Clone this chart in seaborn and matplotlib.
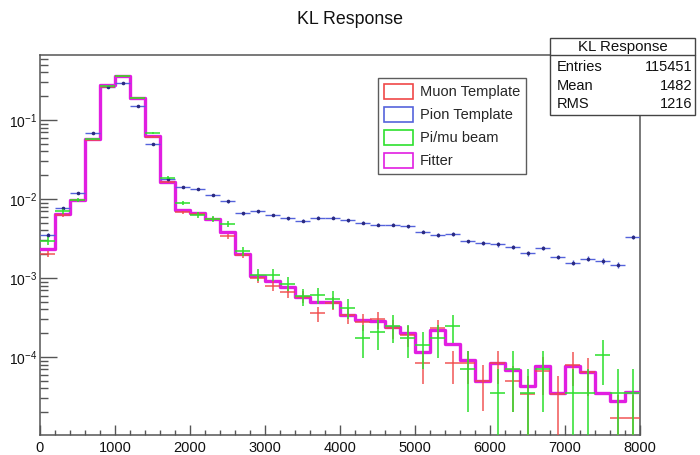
import numpy as np
import pandas as pd
import matplotlib
matplotlib.use("Agg")
import matplotlib.pyplot as plt
from matplotlib.patches import Patch, Rectangle
from matplotlib.lines import Line2D
from matplotlib.ticker import MultipleLocator, LogLocator, NullFormatter
import seaborn as sns

nan = np.nan

# ---- data ----
edges = list(range(0, 8001, 200))
centers = [e + 100 for e in edges[:-1]]

fitter = [2.33e-3, 6.4e-3, 9.8e-3, 0.057, 0.28, 0.36, 0.19, 0.062, 0.0163, 7.3e-3,
          6.6e-3, 5.6e-3, 3.86e-3, 2.0e-3, 1.06e-3, 9.2e-4, 7.6e-4, 5.8e-4, 4.9e-4, 4.9e-4,
          3.4e-4, 2.94e-4, 2.86e-4, 2.4e-4, 2.0e-4, 1.17e-4, 2.2e-4, 1.45e-4, 9.3e-5, 5.0e-5,
          8.3e-5, 6.8e-5, 4.3e-5, 7.8e-5, 3.5e-5, 7.8e-5, 6.5e-5, 3.5e-5, 2.8e-5, 3.6e-5]

muon = [2.0e-3, 6.3e-3, 9.7e-3, 0.056, 0.264, 0.36, 0.19, 0.061, 0.0165, 6.8e-3,
        6.5e-3, 5.6e-3, 3.4e-3, 1.95e-3, 9.9e-4, 7.9e-4, 6.7e-4, 5.8e-4, 3.57e-4, 4.8e-4,
        3.4e-4, 2.8e-4, 3.0e-4, 2.3e-4, 1.9e-4, 8.3e-5, 2.3e-4, 8.3e-5, 8.3e-5, 5.0e-5,
        8.3e-5, 4.9e-5, 3.4e-5, 6.7e-5, 3.4e-5, 8.0e-5, 6.5e-5, nan, 1.67e-5, 1.67e-5]
muon_err = [1.8e-4, 3.2e-4, 4.0e-4, 9.7e-4, 2.1e-3, 2.45e-3, 1.78e-3, 1.0e-3, 5.3e-4, 3.4e-4,
            3.3e-4, 3.1e-4, 2.4e-4, 1.8e-4, 1.29e-4, 1.15e-4, 1.06e-4, 9.8e-5, 7.7e-5, 8.9e-5,
            7.5e-5, 6.8e-5, 7.1e-5, 6.2e-5, 5.6e-5, 3.7e-5, 6.2e-5, 3.7e-5, 3.7e-5, 2.9e-5,
            3.7e-5, 2.9e-5, 2.4e-5, 3.4e-5, 2.4e-5, 3.65e-5, 3.3e-5, nan, 1.67e-5, 1.67e-5]

pion = [3.5e-3, 7.6e-3, 0.012, 0.069, 0.264, 0.29, 0.15, 0.049, 0.0177, 0.0143,
        0.0134, 0.0113, 9.3e-3, 6.6e-3, 7.0e-3, 6.3e-3, 5.7e-3, 5.3e-3, 5.8e-3, 5.8e-3,
        5.4e-3, 5.0e-3, 4.7e-3, 4.7e-3, 4.5e-3, 3.86e-3, 3.5e-3, 3.6e-3, 2.9e-3, 2.75e-3,
        2.66e-3, 2.5e-3, 2.05e-3, 2.4e-3, 1.85e-3, 1.57e-3, 1.75e-3, 1.65e-3, 1.46e-3, 3.3e-3]
pion_err = [1.8e-4, 2.7e-4, 3.4e-4, 8.1e-4, 1.58e-3, 1.65e-3, 1.19e-3, 6.8e-4, 4.1e-4, 3.7e-4,
            3.5e-4, 3.3e-4, 3.0e-4, 2.5e-4, 2.6e-4, 2.4e-4, 2.3e-4, 2.2e-4, 2.3e-4, 2.3e-4,
            2.25e-4, 2.2e-4, 2.1e-4, 2.1e-4, 2.06e-4, 1.9e-4, 1.8e-4, 1.84e-4, 1.65e-4, 1.6e-4,
            1.58e-4, 1.53e-4, 1.39e-4, 1.5e-4, 1.32e-4, 1.21e-4, 1.28e-4, 1.25e-4, 1.17e-4, 1.76e-4]

beam = [2.95e-3, 7.0e-3, 9.8e-3, 0.057, 0.27, 0.36, 0.19, 0.068, 0.0186, 8.9e-3,
        6.3e-3, 5.6e-3, 4.8e-3, 2.2e-3, 1.1e-3, 1.1e-3, 8.5e-4, 5.9e-4, 6.1e-4, 5.5e-4,
        4.2e-4, 1.75e-4, 2.1e-4, 2.45e-4, 1.75e-4, 1.4e-4, 1.75e-4, 2.45e-4, 7.0e-5, nan,
        3.5e-5, 7.0e-5, 3.5e-5, 7.0e-5, nan, 3.5e-5, 3.5e-5, 1.05e-4, 3.5e-5, 3.5e-5]
beam_err = [3.2e-4, 4.9e-4, 5.9e-4, 1.41e-3, 3.1e-3, 3.5e-3, 2.6e-3, 1.54e-3, 8.1e-4, 5.6e-4,
            4.7e-4, 4.4e-4, 4.1e-4, 2.8e-4, 1.96e-4, 1.96e-4, 1.72e-4, 1.44e-4, 1.46e-4, 1.39e-4,
            1.21e-4, 7.8e-5, 8.6e-5, 9.3e-5, 7.8e-5, 7.0e-5, 7.8e-5, 9.3e-5, 5.0e-5, nan,
            3.5e-5, 5.0e-5, 3.5e-5, 5.0e-5, nan, 3.5e-5, 3.5e-5, 6.1e-5, 3.5e-5, 3.5e-5]

labels = ["Muon Template", "Pion Template", "Pi/mu beam", "Fitter"]
title = "KL Response"
stats_rows = [("Entries", "115451"), ("Mean", "1482"), ("RMS", "1216")]

# ---- style ----
sns.set_theme(style="ticks")
plt.rcParams["font.family"] = ["Liberation Sans", "DejaVu Sans"]
plt.rcParams["mathtext.default"] = "regular"

C_RED = "#f04848"
C_BLUE = "#5563dc"
C_GREEN = "#2ee02e"
C_MAG = "#e11ee1"
FRAME = "#555555"

W, H = 700, 455
fig = plt.figure(figsize=(W / 100, H / 100), dpi=100)
ax = fig.add_axes([40 / W, 20 / H, 600 / W, 380 / H])
ax.set_yscale("log")

df = pd.DataFrame({"center": centers, "fitter": fitter, "muon": muon, "muon_err": muon_err,
                   "pion": pion, "pion_err": pion_err, "beam": beam, "beam_err": beam_err})

# Fitter step histogram
sns.histplot(data=df, x="center", weights="fitter", bins=edges, element="step",
             fill=False, color=C_MAG, linewidth=2.4, ax=ax, zorder=3)

# Pion template
ax.errorbar(df["center"], df["pion"], xerr=100, yerr=df["pion_err"], fmt="o",
            ms=1.6, mfc="#2a2a80", mec="#2a2a80", ecolor=C_BLUE, elinewidth=1.0,
            capsize=0, zorder=4)
# Muon template
ax.errorbar(df["center"], df["muon"], xerr=100, yerr=df["muon_err"], fmt="none",
            ecolor=C_RED, elinewidth=1.2, capsize=0, alpha=0.85, zorder=4)
# Pi/mu beam
ax.errorbar(df["center"], df["beam"], xerr=100, yerr=df["beam_err"], fmt="none",
            ecolor=C_GREEN, elinewidth=1.4, capsize=0, alpha=0.8, zorder=5)

ax.set_xlim(0, 8000)
ax.set_ylim(1.03e-5, 0.665)
ax.set_xlabel("")
ax.set_ylabel("")

ax.xaxis.set_major_locator(MultipleLocator(1000))
ax.xaxis.set_minor_locator(MultipleLocator(200))
ax.yaxis.set_major_locator(LogLocator(base=10))
ax.yaxis.set_minor_locator(LogLocator(base=10, subs=np.arange(2, 10)))
ax.yaxis.set_minor_formatter(NullFormatter())

ax.tick_params(which="both", direction="in", top=False, right=False, colors=FRAME,
               labelcolor="#111111")
ax.tick_params(axis="x", which="major", length=7, width=1, pad=4, labelsize=10.5)
ax.tick_params(axis="x", which="minor", length=3.5, width=1)
ax.tick_params(axis="y", which="major", length=12, width=1, pad=2, labelsize=10)
ax.tick_params(axis="y", which="minor", length=6, width=1)
for s in ax.spines.values():
    s.set_color(FRAME)
    s.set_linewidth(1.1)

# Legend (ROOT-style boxes)
handles = [Patch(facecolor="white", edgecolor=c, linewidth=1.2)
           for c in (C_RED, C_BLUE, C_GREEN, C_MAG)]
leg = ax.legend(handles, labels, loc="upper left",
                bbox_to_anchor=((378 - 40) / 600, (435 - 78) / 380),
                frameon=True, fancybox=False, fontsize=10.5, handlelength=2.0,
                handleheight=1.25, labelspacing=0.5, borderpad=0.4,
                handletextpad=0.45, borderaxespad=0)
leg.get_frame().set_edgecolor("#333333")
leg.get_frame().set_linewidth(1.0)
leg.set_zorder(10)

# Title
fig.text(350 / W, 1 - 20 / H, title, ha="center", va="center", fontsize=12.8,
         color="#111111")

# Stats box
bx0, bx1, by0, by1, bsep = 550, 695, 38, 115, 55
fig.add_artist(Rectangle((bx0 / W, 1 - by1 / H), (bx1 - bx0) / W, (by1 - by0) / H,
                         transform=fig.transFigure, facecolor="white",
                         edgecolor="#444444", linewidth=1.0, zorder=5))
fig.add_artist(Line2D([bx0 / W, bx1 / W], [1 - bsep / H, 1 - bsep / H],
                      transform=fig.transFigure, color="#444444", lw=1.0, zorder=6))
fig.text((bx0 + bx1) / 2 / W, 1 - 47 / H, title, ha="center", va="center",
         fontsize=10.8, color="#111111", zorder=7)
for (k, v), yy in zip(stats_rows, (67, 86, 104)):
    fig.text(557 / W, 1 - yy / H, k, ha="left", va="center", fontsize=10.5,
             color="#111111", zorder=7)
    fig.text(692 / W, 1 - yy / H, v, ha="right", va="center", fontsize=10.5,
             color="#111111", zorder=7)

fig.savefig("out.png", dpi=100)
